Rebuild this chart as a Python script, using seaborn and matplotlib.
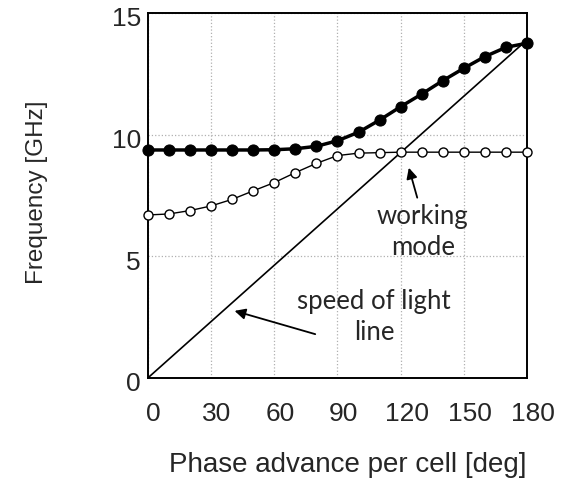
import numpy as np
import pandas as pd
import matplotlib
matplotlib.use("Agg")
import matplotlib.pyplot as plt
import matplotlib.transforms as mtransforms
import seaborn as sns

# Dispersion data: phase advance per cell vs. frequency
phase_deg = [0, 10, 20, 30, 40, 50, 60, 70, 80, 90, 100, 110, 120, 130, 140, 150, 160, 170, 180]
upper_band_ghz = [9.37, 9.37, 9.37, 9.37, 9.37, 9.37, 9.38, 9.42, 9.52, 9.75, 10.1, 10.6,
                  11.15, 11.67, 12.22, 12.73, 13.21, 13.59, 13.76]
lower_band_ghz = [6.70, 6.74, 6.88, 7.07, 7.34, 7.69, 8.03, 8.44, 8.82, 9.14, 9.24, 9.26,
                  9.28, 9.28, 9.28, 9.28, 9.28, 9.28, 9.28]
light_phase_deg = [0, 180]
light_freq_ghz = [0, 13.9]

x_ticks = [0, 30, 60, 90, 120, 150, 180]
y_ticks = [0, 5, 10, 15]

sns.set_style("white")
plt.rcParams["font.family"] = ["Liberation Sans", "DejaVu Sans"]

fig = plt.figure(figsize=(5.62, 4.99), dpi=100)
ax = fig.add_axes([0.263, 0.2425, 0.675, 0.7315])

df = pd.DataFrame({"phase": phase_deg, "upper": upper_band_ghz, "lower": lower_band_ghz})
light = pd.DataFrame({"phase": light_phase_deg, "freq": light_freq_ghz})

sns.lineplot(data=light, x="phase", y="freq", ax=ax, color="black", lw=1.2, zorder=3)
sns.lineplot(data=df, x="phase", y="lower", ax=ax, color="black", lw=1.0,
             marker="o", markersize=6.5, markerfacecolor="white", markeredgecolor="black",
             markeredgewidth=1.0, zorder=4, clip_on=False)
sns.lineplot(data=df, x="phase", y="upper", ax=ax, color="black", lw=2.5,
             marker="o", markersize=8, markerfacecolor="black", markeredgecolor="black",
             zorder=5, clip_on=False)

ax.set_xlim(0, 180)
ax.set_ylim(0, 15)
ax.set_xticks(x_ticks)
ax.set_yticks(y_ticks)
ax.tick_params(axis="both", labelsize=19, length=0)
ax.tick_params(axis="x", pad=17)
ax.tick_params(axis="y", pad=5)
ax.grid(True, color="#b0b0b0", linestyle=":", linewidth=0.9)
for s in ax.spines.values():
    s.set_color("black")
    s.set_linewidth(1.4)

# nudge tick labels slightly right / down
dx = mtransforms.ScaledTranslation(6 / 100, 0, fig.dpi_scale_trans)
dy = mtransforms.ScaledTranslation(0, -4 / 100, fig.dpi_scale_trans)
for lab in ax.get_xticklabels():
    lab.set_transform(lab.get_transform() + dx)
for lab in ax.get_yticklabels():
    lab.set_transform(lab.get_transform() + dy)

ax.set_xlabel("")
ax.set_ylabel("")
fig.text(0.619, 0.068, "Phase advance per cell [deg]", ha="center", va="center", fontsize=20)
fig.text(0.066, 0.615, "Frequency [GHz]", ha="center", va="center", rotation=90, fontsize=17.5)

note_font = ["Lato", "DejaVu Sans"]
ax.annotate("", xy=(123.5, 8.75), xytext=(128.2, 7.3),
            arrowprops=dict(arrowstyle="-|>", color="black", lw=1.3, mutation_scale=16))
ax.text(130.5, 6.0, "working\nmode", ha="center", va="center", fontsize=18.5,
        family=note_font, linespacing=1.3)
ax.annotate("", xy=(39.9, 2.79), xytext=(80.7, 1.77),
            arrowprops=dict(arrowstyle="-|>", color="black", lw=1.3, mutation_scale=16))
ax.text(107.3, 2.5, "speed of light\nline", ha="center", va="center", fontsize=18.5,
        family=note_font, linespacing=1.3)

fig.savefig("out.png", dpi=100)
